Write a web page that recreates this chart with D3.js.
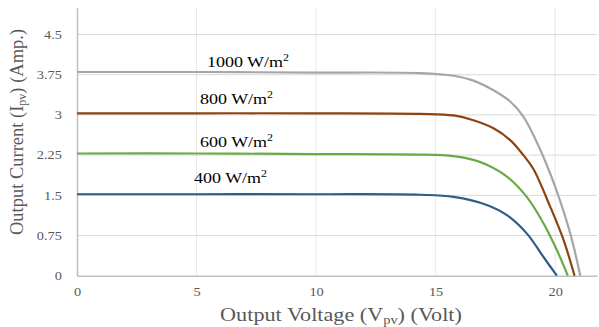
<html>
<head>
<meta charset="utf-8">
<script src="https://d3js.org/d3.v7.min.js"></script>
<style>
  body { margin:0; background:#fff; }
  text { font-family:"Liberation Serif", "DejaVu Serif", serif; }
  .tick text { fill:#595959; font-size:12px; }
</style>
</head>
<body>
<script>
// tick values
var xTicks = [0, 5, 10, 15, 20];
var yTicks = [0, 0.75, 1.5, 2.25, 3, 3.75, 4.5];

// curves: voltage (V) and current (A)
var v1000 = [0, 5, 10, 14.35, 15.75, 16.58, 17.42, 18.12, 18.67, 19.16, 19.58, 20.0, 20.63, 21.05];
var i1000 = [3.80, 3.80, 3.79, 3.78, 3.73, 3.64, 3.46, 3.25, 2.97, 2.56, 2.14, 1.66, 0.79, 0];

var v800 = [0, 5, 10, 14.35, 15.75, 16.58, 17.42, 18.12, 18.67, 19.09, 19.79, 20.35, 20.81];
var i800 = [3.03, 3.03, 3.03, 3.02, 2.99, 2.90, 2.75, 2.53, 2.25, 1.99, 1.29, 0.67, 0];

var v600 = [0, 5, 10, 14.35, 15.75, 16.58, 17.14, 17.98, 18.81, 19.51, 20.07, 20.53];
var i600 = [2.28, 2.28, 2.27, 2.26, 2.23, 2.16, 2.07, 1.85, 1.47, 0.98, 0.48, 0];

var v400 = [0, 5, 10, 14.35, 15.75, 17.14, 17.98, 18.81, 19.51, 20.07];
var i400 = [1.52, 1.52, 1.52, 1.51, 1.47, 1.32, 1.13, 0.79, 0.35, 0];

var series = [
  {name:"1000", v:v1000, i:i1000, color:"#a6a6a6", lx:207, ly:67},
  {name:"800",  v:v800,  i:i800,  color:"#8e4410", lx:200, ly:104},
  {name:"600",  v:v600,  i:i600,  color:"#6aaa45", lx:200, ly:147},
  {name:"400",  v:v400,  i:i400,  color:"#2d5d8a", lx:194, ly:183}
];

var w = 599, h = 327;
var sx = 1.2;   // the picture is stretched sideways, text too
var svg = d3.select("body").append("svg").attr("width", w).attr("height", h);

var x = d3.scaleLinear().domain([0, 21.75]).range([77, 597]);
var y = d3.scaleLinear().domain([0, 5]).range([275.7, 7.7]);

// horizontal grid
svg.append("g").selectAll("line").data(yTicks.slice(1)).enter().append("line")
  .attr("x1", x(0)).attr("x2", x(21.75))
  .attr("y1", d => y(d)).attr("y2", d => y(d))
  .attr("stroke", "#d9d9d9").attr("stroke-width", 1);

// vertical dotted grid
svg.append("g").selectAll("line").data(xTicks.slice(1)).enter().append("line")
  .attr("x1", d => x(d)).attr("x2", d => x(d))
  .attr("y1", y(0)).attr("y2", y(5))
  .attr("stroke", "#d0d0d0").attr("stroke-dasharray", "1,1").attr("stroke-width", 1);

// axes
var xAxis = d3.axisBottom(x).tickValues(xTicks).tickSize(0).tickPadding(12);
svg.append("g").attr("transform", "translate(0," + y(0) + ")").call(xAxis)
  .call(g => g.select(".domain").attr("stroke", "#bfbfbf").attr("stroke-width", 1.5))
  .call(g => g.selectAll(".tick text").attr("transform", "scale(" + sx + ",1)"));

var yAxis = d3.axisLeft(y).tickValues(yTicks).tickSize(0).tickPadding(15)
  .tickFormat(d => String(d));
svg.append("g").attr("transform", "translate(" + x(0) + ",0)").call(yAxis)
  .call(g => g.select(".domain").attr("stroke", "#bfbfbf").attr("stroke-width", 1.5))
  .call(g => g.selectAll(".tick text").attr("x", -15 / sx).attr("transform", "scale(" + sx + ",1)"));

// lines
var line = d3.line().x(d => x(d[0])).y(d => y(d[1])).curve(d3.curveCatmullRom.alpha(0.5));
series.forEach(function(s) {
  var pts = s.v.map((v, k) => [v, s.i[k]]);
  svg.append("path").datum(pts)
    .attr("d", line)
    .attr("fill", "none")
    .attr("stroke", s.color)
    .attr("stroke-width", 2.2);

  var t = svg.append("text")
    .attr("transform", "translate(" + s.lx + "," + s.ly + ") scale(" + sx + ",1)")
    .attr("font-size", "15px").attr("fill", "#000");
  t.append("tspan").text(s.name + " W/m");
  t.append("tspan").attr("font-size", "10px").attr("dy", -6).text("2");
});

// axis titles
var xt = svg.append("text").attr("transform", "translate(341,321) scale(" + sx + ",1)")
  .attr("text-anchor", "middle").attr("font-size", "18.5px").attr("fill", "#595959");
xt.append("tspan").text("Output Voltage (V");
xt.append("tspan").attr("font-size", "12px").attr("dy", 3).text("pv");
xt.append("tspan").attr("dy", -3).text(") (Volt)");

var yt = svg.append("text").attr("transform", "translate(23,132) rotate(-90)")
  .attr("text-anchor", "middle").attr("font-size", "18.5px").attr("fill", "#595959");
yt.append("tspan").text("Output Current (I");
yt.append("tspan").attr("font-size", "12px").attr("dy", 3).text("pv");
yt.append("tspan").attr("dy", -3).text(") (Amp.)");
</script>
</body>
</html>
